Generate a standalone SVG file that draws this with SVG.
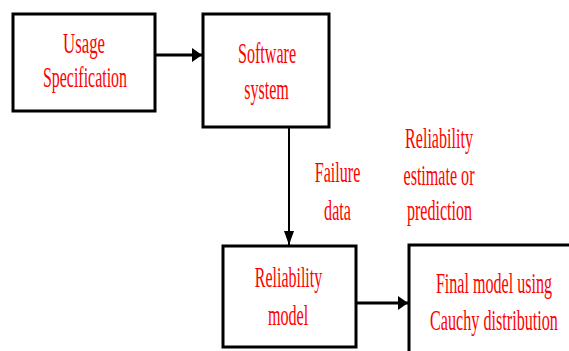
<svg xmlns="http://www.w3.org/2000/svg" width="569" height="351" viewBox="0 0 569 351">
  <defs>
    <style>
      .box { fill: #ffffff; stroke: #000000; stroke-width: 3; }
      .open { fill: none; stroke: #000000; stroke-width: 3; }
      .lbl { font-family: "Liberation Serif", "Times New Roman", serif; font-size: 29px; fill: #ff0000; text-anchor: middle; }
      .edge { stroke: #000000; fill: none; }
      .thick { stroke-width: 3; }
      .thin { stroke-width: 2; }
    </style>
    <marker id="headH" markerUnits="userSpaceOnUse" markerWidth="10" markerHeight="14" refX="10" refY="7" orient="auto">
      <path d="M0,0 L10,7 L0,14 Z" fill="#000000"/>
    </marker>
    <marker id="headV" markerUnits="userSpaceOnUse" markerWidth="14" markerHeight="10" refX="14" refY="5" orient="auto">
      <path d="M0,0 L14,5 L0,10 Z" fill="#000000"/>
    </marker>
  </defs>

  <rect width="569" height="351" fill="#ffffff"/>

  <!-- connectors -->
  <g id="connectors">
    <line class="edge thick" x1="155" y1="55" x2="202" y2="55" marker-end="url(#headH)"/>
    <line class="edge thin" x1="289" y1="127" x2="289" y2="245" marker-end="url(#headV)"/>
    <line class="edge thick" x1="356" y1="303" x2="408" y2="303" marker-end="url(#headH)"/>
  </g>

  <!-- nodes; labels are set in a horizontally condensed serif (scale 0.555 on x) -->
  <g id="usage-specification">
    <rect class="box" x="13" y="14" width="142" height="97"/>
    <text class="lbl" transform="translate(84,53) scale(0.58,1)">Usage</text>
    <text class="lbl" transform="translate(85,87) scale(0.55,1)">Specification</text>
  </g>

  <g id="software-system">
    <rect class="box" x="203" y="14" width="126" height="113"/>
    <text class="lbl" transform="translate(267,63) scale(0.555,1)">Software</text>
    <text class="lbl" transform="translate(266.5,99) scale(0.555,1)">system</text>
  </g>

  <g id="reliability-model">
    <rect class="box" x="223" y="246" width="133" height="101"/>
    <text class="lbl" transform="translate(288.5,287) scale(0.55,1)">Reliability</text>
    <text class="lbl" transform="translate(288,325) scale(0.555,1)">model</text>
  </g>

  <!-- this box runs off the right and bottom edges, so only its left and top sides show -->
  <g id="final-model">
    <path class="open" d="M409,351 V245 H569"/>
    <text class="lbl" transform="translate(494,293) scale(0.555,1)">Final model using</text>
    <text class="lbl" transform="translate(494,330) scale(0.557,1)">Cauchy distribution</text>
  </g>

  <!-- free labels -->
  <g id="failure-data">
    <text class="lbl" transform="translate(337.5,182) scale(0.555,1)">Failure</text>
    <text class="lbl" transform="translate(337.5,220) scale(0.555,1)">data</text>
  </g>

  <g id="reliability-estimate">
    <text class="lbl" transform="translate(439,148) scale(0.555,1)">Reliability</text>
    <text class="lbl" transform="translate(439,185) scale(0.555,1)">estimate or</text>
    <text class="lbl" transform="translate(439.5,220) scale(0.555,1)">prediction</text>
  </g>
</svg>
